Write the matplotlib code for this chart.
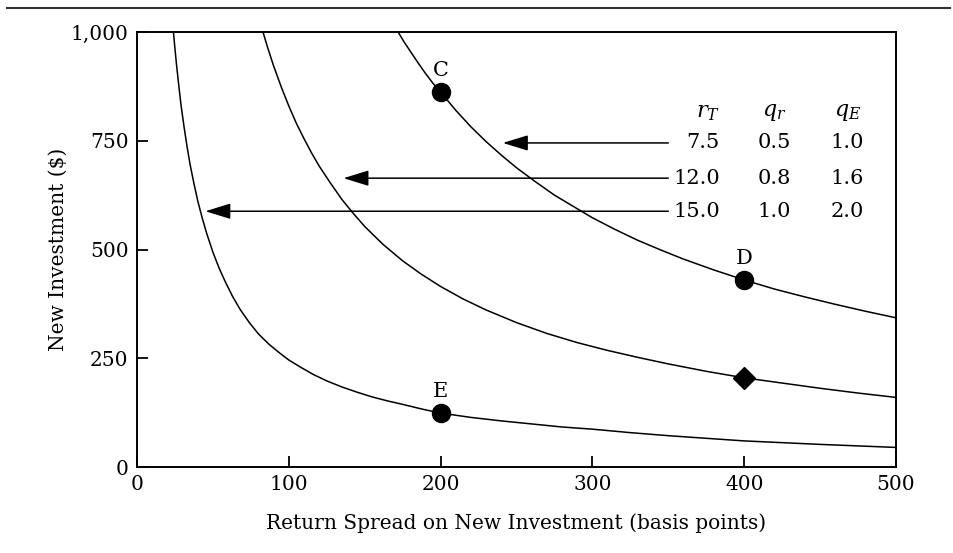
# Investment curves: new investment vs. return spread

import matplotlib
matplotlib.use('Agg')
import matplotlib.pyplot as plt
from matplotlib.lines import Line2D

matplotlib.rcParams['font.family'] = 'DejaVu Serif'
matplotlib.rcParams['mathtext.fontset'] = 'dejavuserif'
matplotlib.rcParams['font.size'] = 14.5

# curve values
x_top = [172, 176, 180, 185, 190, 195, 200, 210, 220, 230, 240, 250, 262, 275, 287, 300,
         315, 330, 345, 360, 380, 400, 420, 440, 460, 480, 500]
y_top = [1000, 977, 956, 930, 905, 882, 862, 820, 782, 748, 717, 688, 657, 625, 600, 573,
         546, 521, 499, 478, 453, 430, 409, 391, 374, 358, 343]

x_mid = [83, 86, 90, 95, 100, 105, 110, 115, 120, 127, 135, 142, 150, 162, 175, 187, 200,
         215, 230, 250, 270, 290, 310, 330, 350, 375, 400, 425, 450, 475, 500]
y_mid = [1000, 965, 922, 874, 830, 790, 755, 722, 692, 655, 615, 585, 553, 512, 474, 444, 415,
         386, 361, 332, 307, 286, 268, 252, 237, 220, 205, 193, 181, 170, 160]

x_low = [24, 25, 26, 27.5, 29, 31, 33, 35, 37.5, 40, 43, 46, 50, 54, 58, 63, 68, 74, 80, 87,
         94, 100, 108, 116, 125, 135, 145, 155, 165, 175, 188, 200, 220, 240, 260, 280, 300,
         325, 350, 375, 400, 450, 500]
y_low = [1000, 962, 926, 878, 832, 782, 736, 695, 652, 612, 572, 536, 494, 458, 427, 392, 362,
         332, 306, 282, 262, 246, 229, 213, 198, 184, 172, 161, 152, 144, 133, 124, 114, 106,
         99, 92, 87, 79, 72, 66, 60, 52, 45]

# marked points
pt_names = ['C', 'D', 'E']
pt_x = [200, 400, 200]
pt_y = [862, 430, 124]
diamond_x = [400]
diamond_y = [205]

# parameter table
col_heads = ['$r_T$', '$q_r$', '$q_E$']
r_T = ['7.5', '12.0', '15.0']
q_r = ['0.5', '0.8', '1.0']
q_E = ['1.0', '1.6', '2.0']
row_y = [745, 664, 588]
arrow_tip = [241, 136, 45]

x_ticks = [0, 100, 200, 300, 400, 500]
y_ticks = [0, 250, 500, 750, 1000]
y_ticklabels = ['0', '250', '500', '750', '1,000']

fig = plt.figure(figsize=(9.54, 5.53), dpi=100)
ax = fig.add_axes([0.1436, 0.1555, 0.7956, 0.7866])

for xs, ys in [(x_top, y_top), (x_mid, y_mid), (x_low, y_low)]:
    ax.plot(xs, ys, color='black', lw=1.1)

ax.plot(pt_x, pt_y, 'o', color='black', ms=13)
ax.plot(diamond_x, diamond_y, 'D', color='black', ms=11)
for name, px, py in zip(pt_names, pt_x, pt_y):
    ax.text(px, py + 28, name, ha='center', va='bottom', fontsize=15)

# table of parameters
ax.text(384, 790, col_heads[0], ha='right', va='bottom', fontsize=16)
ax.text(420, 790, col_heads[1], ha='center', va='bottom', fontsize=16)
ax.text(468, 790, col_heads[2], ha='center', va='bottom', fontsize=16)
for i in range(3):
    ax.text(384, row_y[i], r_T[i], ha='right', va='center', fontsize=15)
    ax.text(420, row_y[i], q_r[i], ha='center', va='center', fontsize=15)
    ax.text(468, row_y[i], q_E[i], ha='center', va='center', fontsize=15)
    ax.annotate('', xy=(arrow_tip[i], row_y[i]), xytext=(350, row_y[i]),
                arrowprops=dict(arrowstyle='-|>,head_length=1.3,head_width=0.4',
                                color='black', lw=1.1, mutation_scale=12,
                                shrinkA=0, shrinkB=0))

ax.set_xlim(0, 500)
ax.set_ylim(0, 1000)
ax.set_xticks(x_ticks)
ax.set_yticks(y_ticks)
ax.set_yticklabels(y_ticklabels)
ax.tick_params(direction='in', length=8, width=1.3, labelsize=14.5, pad=6)
for s in ax.spines.values():
    s.set_linewidth(1.4)

ax.set_xlabel('Return Spread on New Investment (basis points)', fontsize=14.5, labelpad=14)
ax.set_ylabel('New Investment ($)', fontsize=14.5, labelpad=2)

# rule at top of the figure
fig.add_artist(Line2D([0.007, 0.996], [0.986, 0.986], color='#333333', lw=1.5,
                      transform=fig.transFigure))

plt.savefig('out.png', dpi=100)
